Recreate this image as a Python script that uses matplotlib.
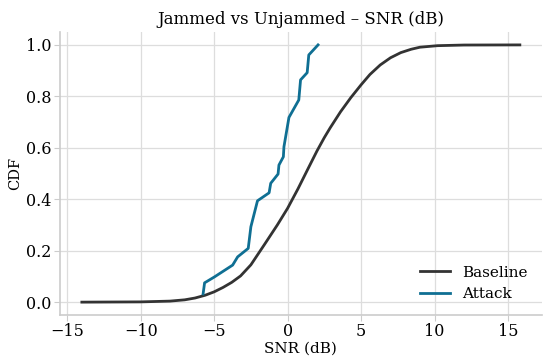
import matplotlib
matplotlib.use("Agg")
import matplotlib.pyplot as plt

# ---- Data ----
baseline_snr = [-14.0, -10.0, -8.0, -7.0, -6.3, -5.6, -5.0, -4.4, -3.8, -3.2,
                -2.5, -1.6, -0.7, 0.0, 0.7, 1.4, 2.0, 2.5, 2.9, 3.6, 4.3,
                5.0, 5.6, 6.3, 7.0, 7.7, 8.4, 9.0, 10.2, 12.0, 15.8]
baseline_cdf = [0.0, 0.001, 0.004, 0.009, 0.016, 0.027, 0.040, 0.057, 0.077, 0.102,
                0.145, 0.222, 0.300, 0.365, 0.440, 0.520, 0.588, 0.640, 0.678, 0.740, 0.795,
                0.845, 0.885, 0.922, 0.950, 0.970, 0.983, 0.991, 0.997, 0.9995, 1.0]

attack_snr = [-5.75, -5.65, -4.98, -3.74, -3.40, -2.68, -2.50, -2.05, -1.26, -1.15,
              -0.65, -0.59, -0.29, -0.25, 0.09, 0.76, 0.88, 1.33, 1.44, 2.07]
attack_cdf = [0.032, 0.075, 0.098, 0.144, 0.176, 0.209, 0.293, 0.394, 0.425, 0.462,
              0.498, 0.533, 0.565, 0.604, 0.718, 0.786, 0.864, 0.892, 0.961, 1.0]

plt.rcParams["font.family"] = ["DejaVu Serif"]

fig, ax = plt.subplots(figsize=(5.5, 3.6), dpi=100)
fig.subplots_adjust(left=0.109, right=0.985, top=0.911, bottom=0.125)

ax.plot(baseline_snr, baseline_cdf, color="#333333", lw=2, label="Baseline")
ax.plot(attack_snr, attack_cdf, color="#0f6f93", lw=2, label="Attack")

ax.set_title("Jammed vs Unjammed – SNR (dB)", fontsize=12)
ax.set_xlabel("SNR (dB)", fontsize=11, labelpad=1)
ax.set_ylabel("CDF", fontsize=10.5, labelpad=3)
ax.set_xticks([-15, -10, -5, 0, 5, 10, 15])
ax.set_yticks([0.0, 0.2, 0.4, 0.6, 0.8, 1.0])
ax.tick_params(labelsize=11.5, color="#cccccc", length=4, pad=2)

# ---- light grid, only left/bottom spines ----
ax.grid(True, color="#dddddd", lw=0.9)
ax.set_axisbelow(True)
for side in ["top", "right"]:
    ax.spines[side].set_visible(False)
for side in ["left", "bottom"]:
    ax.spines[side].set_color("#cccccc")
    ax.spines[side].set_linewidth(1.2)

ax.legend(loc="lower right", frameon=False, fontsize=11)

plt.savefig("out.png", dpi=100)
